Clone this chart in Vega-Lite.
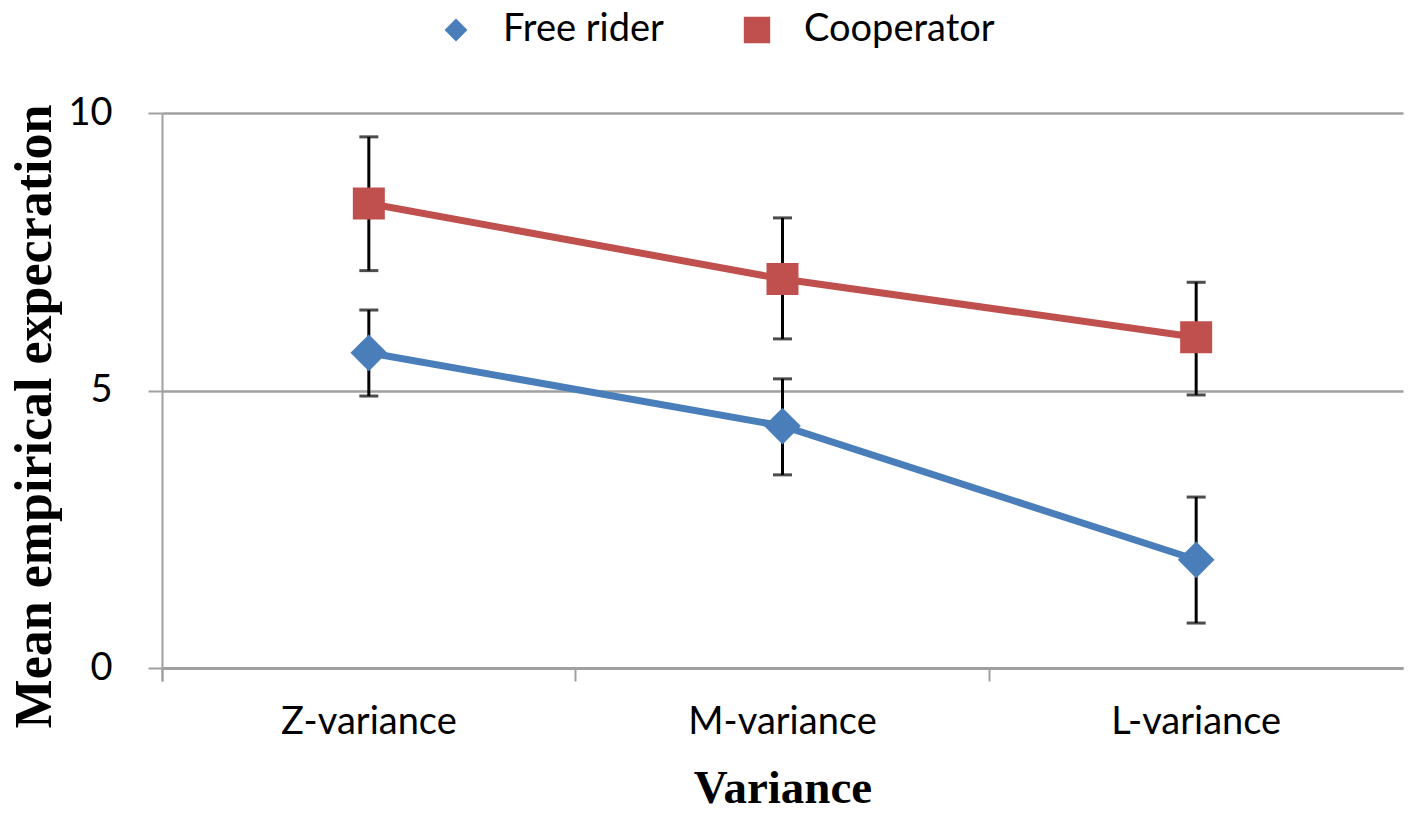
{
  "$schema": "https://vega.github.io/schema/vega-lite/v6.json",
  "width": 1241,
  "height": 555,
  "autosize": "none",
  "padding": {"left": 162, "top": 113, "right": 14, "bottom": 151},
  "background": "white",
  "config": {"view": {"stroke": null}, "font": "Lato"},
  "data": {
    "values": [
      {"cat": "Z-variance", "series": "Free rider", "mean": 5.68, "lo": 4.9, "hi": 6.45},
      {"cat": "M-variance", "series": "Free rider", "mean": 4.36, "lo": 3.48, "hi": 5.21},
      {"cat": "L-variance", "series": "Free rider", "mean": 1.95, "lo": 0.81, "hi": 3.08},
      {"cat": "Z-variance", "series": "Cooperator", "mean": 8.37, "lo": 7.16, "hi": 9.57},
      {"cat": "M-variance", "series": "Cooperator", "mean": 7.01, "lo": 5.93, "hi": 8.11},
      {"cat": "L-variance", "series": "Cooperator", "mean": 5.96, "lo": 4.92, "hi": 6.95}
    ]
  },
  "encoding": {
    "x": {
      "field": "cat",
      "type": "nominal",
      "sort": ["Z-variance", "M-variance", "L-variance"],
      "scale": {"paddingInner": 0, "paddingOuter": 0},
      "axis": {
        "title": "Variance",
        "titleFont": "Liberation Serif",
        "titleFontWeight": "bold",
        "titleFontSize": 47,
        "titleColor": "black",
        "titleBaseline": "alphabetic",
        "titleY": 134,
        "labelAngle": 0,
        "labelFont": "Lato",
        "labelFontSize": 38,
        "labelColor": "black",
        "labelPadding": 22,
        "labelLimit": 400,
        "bandPosition": 0,
        "tickExtra": true,
        "tickSize": 13,
        "tickColor": "#A0A0A0",
        "tickWidth": 2,
        "domainColor": "#A0A0A0",
        "domainWidth": 3,
        "grid": false
      }
    }
  },
  "layer": [
    {
      "mark": {"type": "errorbar", "color": "black", "ticks": true, "size": 19, "thickness": 3},
      "encoding": {
        "y": {"field": "lo", "type": "quantitative", "scale": {"domain": [0, 10]}, "title": "Mean empirical expecration"},
        "y2": {"field": "hi"},
        "detail": {"field": "series"}
      }
    },
    {
      "mark": {"type": "line", "strokeWidth": 7},
      "encoding": {
        "y": {
          "field": "mean",
          "type": "quantitative",
          "scale": {"domain": [0, 10]},
          "axis": {
            "title": "Mean empirical expecration",
            "titleFont": "Liberation Serif",
            "titleFontWeight": "bold",
            "titleFontSize": 52,
            "titleColor": "black",
            "titleBaseline": "alphabetic",
            "titleX": -112,
            "titleY": 303,
            "values": [0, 5, 10],
            "labelFont": "Lato",
            "labelFontSize": 38,
            "labelColor": "black",
            "labelPadding": 36,
            "tickSize": 14,
            "tickColor": "#A0A0A0",
            "tickWidth": 2,
            "domainColor": "#A0A0A0",
            "domainWidth": 2,
            "grid": true,
            "gridColor": "#A0A0A0",
            "gridWidth": 2.5
          }
        },
        "color": {
          "field": "series",
          "type": "nominal",
          "scale": {"domain": ["Free rider", "Cooperator"], "range": ["#4A7EBB", "#C0504D"]},
          "legend": null
        }
      }
    },
    {
      "transform": [{"filter": "datum.series === 'Free rider'"}],
      "mark": {"type": "point", "filled": true, "opacity": 1, "shape": "diamond", "size": 1350, "strokeWidth": 1},
      "encoding": {
        "y": {"field": "mean", "type": "quantitative"},
        "color": {"field": "series", "type": "nominal", "legend": null}
      }
    },
    {
      "transform": [{"filter": "datum.series === 'Cooperator'"}],
      "mark": {"type": "point", "filled": true, "opacity": 1, "shape": "square", "size": 1024, "strokeWidth": 1},
      "encoding": {
        "y": {"field": "mean", "type": "quantitative"},
        "color": {"field": "series", "type": "nominal", "legend": null}
      }
    },
    {
      "transform": [{"filter": "datum.series === 'Free rider'"}],
      "mark": {"type": "point", "filled": true, "opacity": 0, "color": "#4A7EBB"},
      "encoding": {
        "y": {"field": "mean", "type": "quantitative"},
        "shape": {
          "field": "series",
          "type": "nominal",
          "scale": {"range": ["M-1,0L-0.26,0L0,-0.26L0.26,0L1,0L0.26,0L0,0.26L-0.26,0Z"]},
          "legend": {
            "orient": "none",
            "direction": "horizontal",
            "legendX": 247,
            "legendY": -130,
            "title": null,
            "labelFont": "Lato",
            "labelFontSize": 38,
            "labelColor": "black",
            "labelLimit": 400,
            "labelOffset": 0,
            "symbolSize": 7744,
            "symbolOpacity": 1,
            "symbolFillColor": "#4A7EBB",
            "symbolStrokeColor": "#4A7EBB",
            "symbolStrokeWidth": 6,
            "padding": 0
          }
        }
      }
    },
    {
      "transform": [{"filter": "datum.series === 'Cooperator'"}],
      "mark": {
        "type": "point",
        "filled": true,
        "opacity": 0,
        "color": "#C0504D",
        "shape": "M-1,0L-0.3,0L-0.3,-0.3L0.3,-0.3L0.3,0L1,0L0.3,0L0.3,0.3L-0.3,0.3L-0.3,0Z"
      },
      "encoding": {
        "y": {"field": "mean", "type": "quantitative"},
        "size": {
          "field": "series",
          "type": "nominal",
          "scale": {"range": [7744, 7744]},
          "legend": {
            "orient": "none",
            "direction": "horizontal",
            "legendX": 548,
            "legendY": -130,
            "title": null,
            "labelFont": "Lato",
            "labelFontSize": 38,
            "labelColor": "black",
            "labelLimit": 400,
            "labelOffset": 0,
            "symbolType": "M-1,0L-0.3,0L-0.3,-0.3L0.3,-0.3L0.3,0L1,0L0.3,0L0.3,0.3L-0.3,0.3L-0.3,0Z",
            "symbolOpacity": 1,
            "symbolFillColor": "#C0504D",
            "symbolStrokeColor": "#C0504D",
            "symbolStrokeWidth": 6,
            "padding": 0
          }
        }
      }
    }
  ]
}
